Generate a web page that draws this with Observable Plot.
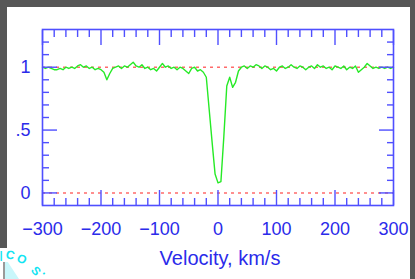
<!DOCTYPE html>
<html><head><meta charset="utf-8">
<script src="https://cdn.jsdelivr.net/npm/d3@7"></script>
<script src="https://cdn.jsdelivr.net/npm/@observablehq/plot@0.6"></script>
<style>
html,body{margin:0;padding:0;width:415px;height:279px;overflow:hidden;background:#575757;}
#panel{position:absolute;left:7px;top:7px;width:403px;height:272px;background:#fff;}
#patch{position:absolute;left:0;top:248px;width:7px;height:31px;background:#fff;}
#bar{position:absolute;left:3px;top:262px;width:2px;height:17px;background:#9a9a9a;}
#tri{position:absolute;left:5px;top:262px;width:14px;height:17px;background:#c9f7fb;clip-path:polygon(0 0,20% 0,100% 100%,0 100%);}
#chart{position:absolute;left:0;top:0;}
.wm{position:absolute;color:#12e4f2;font:bold 12px "Liberation Sans",Arial,sans-serif;line-height:12px;transform-origin:center;}
</style></head>
<body>
<div id="panel"></div>
<div id="patch"></div>
<div id="tri"></div>
<div id="bar"></div>
<div class="wm" style="left:-1px;top:248px;font-size:15px;line-height:15px;font-weight:normal;">I</div>
<div class="wm" style="left:6px;top:249px;transform:rotate(15deg);">C</div>
<div class="wm" style="left:17px;top:253px;transform:rotate(30deg);">O</div>
<div class="wm" style="left:32px;top:265px;transform:rotate(50deg);">S</div>
<div class="wm" style="left:45px;top:266px;transform:rotate(60deg);">.</div>
<div id="chart"></div>
<script>
// Spectrum: velocity (km/s) and normalised flux
const velocity = [
-300,-295,-290,-285,-280,-275,-270,-265,-260,-255,-250,-245,-240,-235,-230,-225,-220,-215,-210,-205,
-200,-195,-190,-185,-180,-175,-170,-165,-160,-155,-150,-145,-140,-135,-130,-125,-120,-115,-110,-105,
-100,-95,-90,-85,-80,-75,-70,-65,-60,-55,-50,-45,-40,-35,-30,-25,-20,-15,-10,-5,
0,5,10,15,20,25,30,35,40,45,50,55,60,65,70,75,80,85,90,95,
100,105,110,115,120,125,130,135,140,145,150,155,160,165,170,175,180,185,190,195,
200,205,210,215,220,225,230,235,240,245,250,255,260,265,270,275,280,285,290,295,300];
const flux = [
1.00,0.99,1.00,0.99,0.98,0.98,0.99,0.98,1.00,0.99,1.00,0.99,1.01,1.02,1.00,1.01,0.99,1.00,0.98,0.99,
0.98,0.96,0.90,0.95,0.99,1.00,1.01,0.99,1.01,1.00,1.02,1.04,1.01,1.00,1.02,0.99,1.00,0.98,0.99,0.97,
1.00,1.03,1.00,1.01,0.99,1.00,0.98,1.00,0.99,0.97,0.95,0.99,1.00,0.97,0.98,0.96,0.92,0.66,0.40,0.15,
0.08,0.09,0.45,0.85,0.92,0.84,0.88,0.97,1.00,1.01,0.99,1.01,1.00,1.02,1.01,0.99,1.01,1.00,0.98,0.99,
0.97,1.00,1.01,0.99,1.00,1.02,1.00,0.99,1.01,1.00,0.98,1.00,1.01,0.99,1.02,1.00,1.01,0.99,1.00,0.98,
1.01,1.00,0.99,1.01,0.98,1.00,0.99,1.01,0.96,0.98,1.00,1.03,1.01,0.99,1.00,0.99,1.00,0.99,1.00,0.99,1.00];

const xMajorTicks = [-300,-200,-100,0,100,200,300];
const xTickLabels = ["\u2212300","\u2212200","\u2212100","0","100","200","300"];
const xMinorTicks = [-280,-260,-240,-220,-180,-160,-140,-120,-80,-60,-40,-20,20,40,60,80,120,140,160,180,220,240,260,280];
const yMajorTicks = [0,0.5,1];
const yTickLabels = ["0",".5","1"];
const yMinorTicks = [0.1,0.2,0.3,0.4,0.6,0.7,0.8,0.9,1.1,1.2];
const refLevels = [0,1];
const xLabel = "Velocity, km/s";

const blue = "#4f4fff";
const labelBlue = "#2b2bea";
const data = velocity.map((v,i)=>({v, f: flux[i]}));

const tickAxis = (fn, ticks, anchor, size) => fn(ticks, {anchor, tickSize: -size, fill: "none", stroke: blue, strokeWidth: 1.4, label: null});

const plot = Plot.plot({
  width: 415, height: 279,
  marginLeft: 42, marginRight: 22, marginTop: 29, marginBottom: 74,
  style: {background: "transparent", fontFamily: "'Liberation Sans', Arial, sans-serif"},
  x: {domain: [-300, 300]},
  y: {domain: [-0.1, 1.3]},
  marks: [
    Plot.ruleY(refLevels, {stroke: "#ff6b6b", strokeDasharray: "3,4", strokeWidth: 1.6}),
    Plot.line(data, {x: "v", y: "f", stroke: "#26ea26", strokeWidth: 1.4, curve: "linear"}),
    Plot.frame({stroke: blue, strokeWidth: 1.6}),
    tickAxis(Plot.axisX, xMinorTicks, "bottom", 7),
    tickAxis(Plot.axisX, xMinorTicks, "top", 7),
    tickAxis(Plot.axisX, xMajorTicks, "bottom", 15),
    tickAxis(Plot.axisX, xMajorTicks, "top", 15),
    tickAxis(Plot.axisY, yMinorTicks, "left", 7),
    tickAxis(Plot.axisY, yMinorTicks, "right", 7),
    tickAxis(Plot.axisY, yMajorTicks, "left", 15),
    tickAxis(Plot.axisY, yMajorTicks, "right", 15),
    Plot.axisX(xMajorTicks, {anchor: "bottom", tickSize: 0, tickPadding: 17, fill: labelBlue, fontSize: 18,
      tickFormat: d => xTickLabels[xMajorTicks.indexOf(d)], label: null}),
    Plot.axisY(yMajorTicks, {anchor: "left", tickSize: 0, tickPadding: 12, fill: labelBlue, fontSize: 18,
      tickFormat: d => yTickLabels[yMajorTicks.indexOf(d)], label: null}),
    Plot.text([xLabel], {frameAnchor: "bottom", dy: 59, dx: 2, lineAnchor: "bottom", fill: labelBlue, fontSize: 20})
  ]
});
document.getElementById("chart").appendChild(plot);
</script>
</body></html>
